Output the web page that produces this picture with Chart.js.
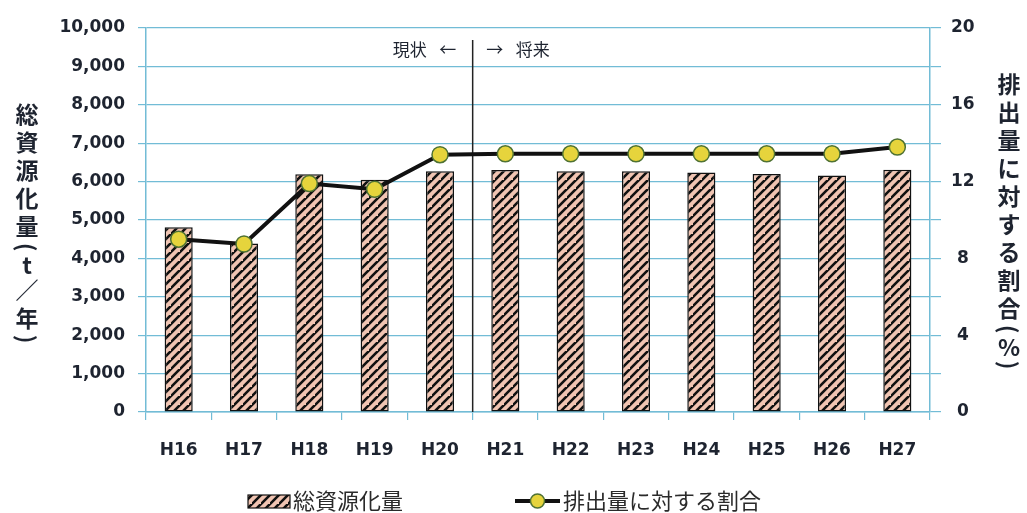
<!DOCTYPE html>
<html>
<head>
<meta charset="utf-8">
<script src="https://cdn.jsdelivr.net/npm/chart.js@4/dist/chart.umd.min.js"></script>
<style>
  html, body { margin: 0; padding: 0; background: #ffffff; }
  #wrap { width: 1027px; height: 513px; }
</style>
</head>
<body>
<div id="wrap"><canvas id="c" width="1027" height="513"></canvas></div>
<script>
// 年度
const years = ['H16', 'H17', 'H18', 'H19', 'H20', 'H21', 'H22', 'H23', 'H24', 'H25', 'H26', 'H27'];
// 総資源化量 (t/年)
const recycledTons = [4810, 4390, 6190, 6050, 6270, 6300, 6270, 6270, 6240, 6200, 6160, 6310];
// 排出量に対する割合 (%)
const recyclingRate = [9.0, 8.75, 11.9, 11.6, 13.4, 13.45, 13.45, 13.45, 13.45, 13.45, 13.45, 13.8];
// 軸の目盛
const tonTicks = [0, 1000, 2000, 3000, 4000, 5000, 6000, 7000, 8000, 9000, 10000];
const rateTickLabels = [0, 4, 8, 12, 16, 20];
// 現状と将来の境目(H20 と H21 の間)
const lastActualIndex = 4;

const leftTitle = '総資源化量(t／年)';
const rightTitle = '排出量に対する割合(%)';

const GRID = '#72bcd6';
const INK = '#1e2430';
const CJK = '"Noto Sans CJK JP", "Noto Sans", sans-serif';
const NUM = '"DejaVu Sans", sans-serif';

// 斜線ハッチング
function makeHatch() {
  const s = 9;
  const cv = document.createElement('canvas');
  cv.width = s; cv.height = s;
  const g = cv.getContext('2d');
  g.fillStyle = '#f0c4b2';
  g.fillRect(0, 0, s, s);
  g.strokeStyle = '#111111';
  g.lineWidth = 2.6;
  g.lineCap = 'square';
  g.beginPath();
  g.moveTo(-1, s + 1); g.lineTo(s + 1, -1);
  g.moveTo(-1 - s, s + 1); g.lineTo(1, -1);
  g.moveTo(s - 1, 2 * s + 1); g.lineTo(2 * s + 1, s - 1);
  g.stroke();
  return g.createPattern(cv, 'repeat');
}
const hatch = makeHatch();

// 縦書きの軸タイトル
function drawVertical(ctx, text, cx, startY, font) {
  ctx.save();
  ctx.font = font;
  ctx.fillStyle = INK;
  ctx.textAlign = 'center';
  ctx.textBaseline = 'middle';
  const kind = ch => (ch === '(' || ch === ')') ? 'paren' : (/[\x20-\x7e]/.test(ch) ? 'ascii' : 'full');
  const ext = { full: 28, paren: 14, ascii: 22 };
  let y = startY;
  const chars = Array.from(text);
  chars.forEach((ch, i) => {
    if (i > 0) y += (ext[kind(chars[i - 1])] + ext[kind(ch)]) / 2;
    if (kind(ch) === 'paren') {
      ctx.save();
      ctx.translate(cx, y);
      ctx.rotate(Math.PI / 2);
      ctx.fillText(ch, 0, 0);
      ctx.restore();
    } else {
      ctx.fillText(ch, cx, y);
    }
  });
  ctx.restore();
}

const decorations = {
  id: 'decorations',
  beforeDatasetsDraw(chart) {
    const { ctx, chartArea, scales } = chart;
    const x = (scales.x.getPixelForValue(lastActualIndex) + scales.x.getPixelForValue(lastActualIndex + 1)) / 2;
    ctx.save();
    ctx.strokeStyle = '#222222';
    ctx.lineWidth = 1.5;
    ctx.beginPath();
    ctx.moveTo(x, chartArea.top + 12);
    ctx.lineTo(x, chartArea.bottom);
    ctx.stroke();
    ctx.font = '17px ' + CJK;
    ctx.fillStyle = INK;
    ctx.textBaseline = 'middle';
    const y = chartArea.top + 22;
    ctx.textAlign = 'right';
    ctx.fillText('現状', x - 46, y);
    ctx.textAlign = 'center';
    ctx.fillText('←', x - 25, y);
    ctx.fillText('→', x + 22, y);
    ctx.textAlign = 'left';
    ctx.fillText('将来', x + 43, y);
    ctx.restore();
  },
  afterDraw(chart) {
    const { ctx } = chart;
    const ds = chart.data.datasets;
    drawVertical(ctx, leftTitle, 27, 114, 'bold 23px ' + CJK);
    drawVertical(ctx, rightTitle, 1009, 84, 'bold 23px ' + CJK);

    // 凡例
    ctx.save();
    const ly = 501;
    ctx.fillStyle = hatch;
    ctx.fillRect(248, ly - 6, 42, 13);
    ctx.strokeStyle = '#111111';
    ctx.lineWidth = 1.2;
    ctx.strokeRect(248, ly - 6, 42, 13);
    ctx.font = '22px ' + CJK;
    ctx.fillStyle = '#2a2a2a';
    ctx.textAlign = 'left';
    ctx.textBaseline = 'middle';
    ctx.fillText(ds[1].label, 293, ly);

    ctx.strokeStyle = '#111111';
    ctx.lineWidth = 4;
    ctx.beginPath();
    ctx.moveTo(515, ly); ctx.lineTo(560, ly);
    ctx.stroke();
    ctx.beginPath();
    ctx.arc(537.5, ly, 7, 0, Math.PI * 2);
    ctx.fillStyle = ds[0].pointBackgroundColor;
    ctx.fill();
    ctx.lineWidth = 1.5;
    ctx.strokeStyle = ds[0].pointBorderColor;
    ctx.stroke();
    ctx.fillStyle = '#2a2a2a';
    ctx.fillText(ds[0].label, 563, ly);
    ctx.restore();
  }
};

new Chart(document.getElementById('c'), {
  data: {
    labels: years,
    datasets: [
      {
        type: 'line',
        label: '排出量に対する割合',
        data: recyclingRate,
        yAxisID: 'yRate',
        order: 0,
        borderColor: '#111111',
        borderWidth: 4,
        tension: 0,
        pointRadius: 8,
        pointHoverRadius: 8,
        pointBackgroundColor: '#e6d43c',
        pointBorderColor: '#4f7233',
        pointBorderWidth: 1.5
      },
      {
        type: 'bar',
        label: '総資源化量',
        data: recycledTons,
        yAxisID: 'yTon',
        order: 1,
        backgroundColor: hatch,
        borderColor: '#111111',
        borderWidth: 1.5,
        borderSkipped: false,
        barPercentage: 0.43,
        categoryPercentage: 1
      }
    ]
  },
  options: {
    responsive: false,
    animation: false,
    devicePixelRatio: 1,
    layout: { padding: { top: 28, left: 0, right: 0, bottom: 51 } },
    plugins: { legend: { display: false }, tooltip: { enabled: false } },
    scales: {
      x: {
        offset: true,
        grid: { offset: true, drawOnChartArea: false, color: GRID, tickLength: 8, lineWidth: 1.2 },
        border: { color: GRID, width: 1.5 },
        ticks: { color: INK, font: { family: NUM, size: 17, weight: 'bold' }, padding: 20, maxRotation: 0 },
        afterFit(s) { s.height = 50; }
      },
      yTon: {
        position: 'left',
        min: 0,
        max: 10000,
        afterBuildTicks(s) { s.ticks = tonTicks.map(v => ({ value: v })); },
        grid: { color: GRID, tickLength: 8, lineWidth: 1.2 },
        border: { color: GRID, width: 1.5 },
        ticks: {
          color: INK,
          padding: 13,
          font: { family: NUM, size: 17, weight: 'bold' },
          callback: v => v.toLocaleString('en-US')
        },
        afterFit(s) { s.width = 146; }
      },
      yRate: {
        position: 'right',
        min: 0,
        max: 20,
        grid: { drawOnChartArea: false, color: GRID, tickLength: 11, lineWidth: 1.2 },
        border: { color: GRID, width: 1.5 },
        ticks: {
          stepSize: 2,
          color: INK,
          padding: 10,
          crossAlign: 'center',
          font: { family: NUM, size: 17, weight: 'bold' },
          callback: v => rateTickLabels.includes(v) ? String(v) : ''
        },
        afterFit(s) { s.width = 97; }
      }
    }
  },
  plugins: [decorations]
});
</script>
</body>
</html>
